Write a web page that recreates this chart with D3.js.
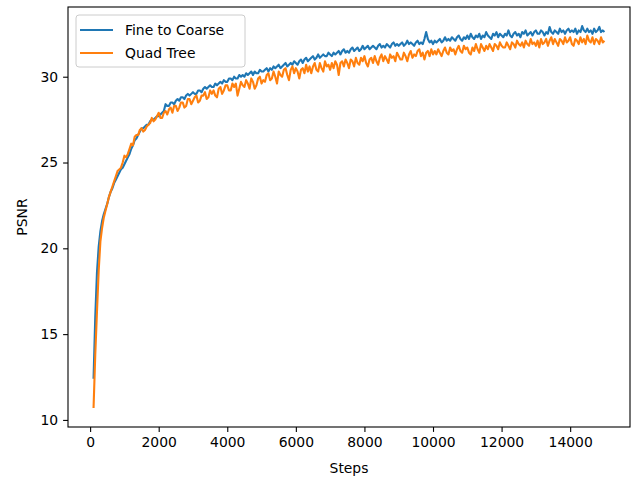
<!DOCTYPE html>
<html>
<head>
<meta charset="utf-8">
<script src="https://cdn.jsdelivr.net/npm/d3@7"></script>
<style>
  body { margin: 0; background: #fff; }
  text { font-family: "DejaVu Sans", sans-serif; }
</style>
</head>
<body>
<svg id="chart" width="639" height="477"></svg>
<script>
var steps = d3.range(100, 15001, 50)

var fineToCoarse = [
  12.4, 16.0, 18.6, 20.1, 21.0, 21.6, 22.0, 22.3, 22.6, 23.0, 23.3, 23.5, 23.8, 24.0, 24.2, 24.4, 24.6, 24.7, 24.9, 25.1,
  25.3, 25.5, 25.8, 26.0, 26.3, 26.4, 26.6, 26.8, 27.0, 27.0, 27.1, 27.2, 27.2, 27.4, 27.5, 27.5, 27.6, 27.7, 27.7, 27.8,
  27.9, 28.0, 28.4, 28.3, 28.3, 28.5, 28.5, 28.4, 28.6, 28.7, 28.6, 28.8, 28.8, 28.7, 28.9, 29.0, 28.9, 29.0, 29.1, 29.0,
  29.0, 29.2, 29.2, 29.1, 29.3, 29.4, 29.3, 29.4, 29.5, 29.4, 29.4, 29.6, 29.5, 29.6, 29.7, 29.6, 29.8, 29.7, 29.7, 29.9,
  29.9, 29.8, 30.0, 29.9, 29.9, 30.1, 30.0, 30.1, 30.0, 30.2, 30.1, 30.2, 30.3, 30.1, 30.3, 30.2, 30.2, 30.4, 30.3, 30.3,
  30.4, 30.5, 30.3, 30.5, 30.4, 30.6, 30.5, 30.6, 30.7, 30.5, 30.6, 30.7, 30.8, 30.6, 30.7, 30.8, 30.7, 30.9, 30.8, 30.7,
  30.9, 31.0, 30.8, 31.0, 31.1, 30.9, 31.0, 31.1, 31.2, 31.0, 31.1, 31.3, 31.1, 31.2, 31.3, 31.2, 31.2, 31.4, 31.3, 31.2,
  31.4, 31.3, 31.4, 31.5, 31.3, 31.5, 31.6, 31.4, 31.5, 31.4, 31.6, 31.7, 31.5, 31.6, 31.7, 31.5, 31.6, 31.8, 31.6, 31.7,
  31.8, 31.6, 31.7, 31.8, 31.7, 31.6, 31.8, 31.9, 31.7, 31.8, 31.7, 31.9, 31.8, 31.7, 31.9, 32.0, 31.8, 31.9, 31.8, 31.9,
  32.0, 31.8, 31.9, 32.1, 31.9, 32.0, 31.9, 31.8, 32.0, 32.1, 31.9, 32.0, 31.9, 32.2, 32.6, 32.2, 32.0, 32.1, 31.9, 32.1,
  32.0, 32.1, 32.2, 32.0, 32.1, 32.3, 32.1, 32.2, 32.1, 32.3, 32.2, 32.1, 32.3, 32.4, 32.2, 32.1, 32.3, 32.2, 32.4, 32.2,
  32.5, 32.3, 32.2, 32.4, 32.3, 32.5, 32.2, 32.4, 32.3, 32.6, 32.4, 32.3, 32.2, 32.5, 32.4, 32.6, 32.3, 32.5, 32.4, 32.3,
  32.5, 32.4, 32.7, 32.4, 32.3, 32.5, 32.6, 32.4, 32.5, 32.3, 32.6, 32.5, 32.7, 32.4, 32.5, 32.6, 32.4, 32.6, 32.7, 32.5,
  32.5, 32.7, 32.6, 32.4, 32.6, 32.5, 32.9, 32.6, 32.5, 32.7, 32.6, 32.5, 32.8, 32.6, 32.7, 32.5, 32.7, 32.8, 32.6, 32.7,
  32.6, 32.8, 32.5, 32.7, 32.6, 32.95, 32.7, 32.6, 32.8, 32.6, 32.7, 32.5, 32.8, 32.6, 32.7, 32.9, 32.6, 32.7, 32.6
]

var quadTree = [
  10.7, 13.8, 16.3, 18.7, 20.4, 21.2, 21.8, 22.2, 22.6, 23.0, 23.3, 23.6, 23.9, 24.2, 24.5, 24.6, 24.7, 25.0, 25.4, 25.3,
  25.5, 25.8, 26.1, 26.0, 26.5, 26.6, 26.6, 26.9, 27.0, 26.8, 26.9, 27.1, 27.2, 27.3, 27.6, 27.4, 27.5, 27.7, 27.9, 27.6,
  27.6, 27.9, 28.0, 27.8, 28.1, 28.2, 27.9, 28.3, 28.3, 28.0, 28.2, 28.5, 28.5, 28.2, 28.3, 28.7, 28.7, 28.4, 28.6, 28.8,
  28.9, 28.5, 28.6, 28.9, 28.9, 29.1, 28.7, 28.8, 29.2, 29.0, 29.2, 28.9, 28.8, 29.3, 29.4, 29.0, 29.2, 29.5, 29.5, 29.2,
  29.2, 29.6, 29.4, 29.6, 28.9, 29.3, 29.7, 29.5, 29.4, 29.8, 29.6, 29.3, 29.9, 29.7, 29.3, 29.5, 29.9, 30.0, 29.6, 29.8,
  29.7, 30.1, 30.2, 29.8, 29.9, 30.3, 30.0, 29.6, 30.3, 30.1, 30.0, 30.4, 30.5, 30.1, 29.8, 30.4, 30.6, 30.2, 30.5, 30.3,
  29.9, 30.4, 30.5, 30.2, 30.7, 30.3, 30.6, 30.2, 30.6, 30.8, 30.4, 30.3, 30.8, 30.5, 30.3, 30.9, 30.6, 30.7, 30.4, 30.8,
  30.5, 30.9, 30.7, 30.1, 30.8, 30.9, 30.6, 31.0, 30.8, 30.5, 31.0, 30.9, 30.6, 31.1, 30.8, 30.7, 31.1, 30.9, 31.2, 30.8,
  30.6, 31.0, 31.1, 30.8, 31.2, 30.9, 30.7, 31.1, 31.3, 30.9, 31.2, 31.0, 30.8, 31.3, 31.1, 31.2, 30.9, 31.4, 31.2, 31.0,
  31.0, 31.4, 31.2, 30.9, 31.3, 31.5, 31.1, 31.3, 31.2, 31.5, 31.6, 31.2, 31.4, 31.0, 31.4, 31.5, 31.2, 31.6, 31.3, 31.5,
  31.3, 31.6, 31.4, 31.2, 31.5, 31.7, 31.4, 31.3, 31.7, 31.5, 31.6, 31.3, 31.6, 31.8, 31.5, 31.4, 31.8, 31.6, 31.7, 31.4,
  31.3, 31.7, 31.5, 31.9, 31.6, 31.4, 31.9, 31.7, 31.5, 31.8, 31.6, 31.9, 31.7, 31.5, 31.9, 31.8, 31.6, 32.0, 31.8, 31.7,
  31.7, 32.0, 31.8, 31.6, 32.0, 31.9, 31.7, 32.1, 31.9, 31.8, 32.0, 31.7, 32.1, 31.9, 31.8, 32.2, 31.9, 32.0, 31.8, 32.1,
  31.7, 32.2, 31.9, 32.0, 32.2, 31.8, 32.1, 32.3, 31.9, 32.2, 32.0, 31.8, 32.2, 32.1, 31.9, 32.3, 32.0, 32.1, 32.3, 31.9,
  31.8, 32.2, 32.1, 31.9, 32.3, 32.0, 32.2, 31.9, 32.4, 32.1, 32.0, 32.3, 31.9, 32.2, 32.1, 31.9, 32.3, 32.0, 32.1
]

var seriesNames = ['Fine to Coarse', 'Quad Tree']
var seriesColors = ['#1f77b4', '#ff7f0e']
var xTicks = [0, 2000, 4000, 6000, 8000, 10000, 12000, 14000]
var yTicks = [10, 15, 20, 25, 30]

var margin = { top: 7, right: 9, bottom: 50, left: 68 }
var width = 639 - margin.left - margin.right
var height = 477 - margin.top - margin.bottom

var svg = d3.select('#chart')
var g = svg.append('g').attr('transform', 'translate(' + margin.left + ',' + margin.top + ')')

// matplotlib style 5% padding on both axes
var allY = fineToCoarse.concat(quadTree)
var xMin = d3.min(steps), xMax = d3.max(steps)
var yMin = d3.min(allY), yMax = d3.max(allY)
var xPad = (xMax - xMin) * 0.05, yPad = (yMax - yMin) * 0.05

var x = d3.scaleLinear().domain([xMin - xPad, xMax + xPad]).range([0, width])
var y = d3.scaleLinear().domain([yMin - yPad, yMax + yPad]).range([height, 0])

var line = d3.line()
  .x(function (d) { return x(d[0]) })
  .y(function (d) { return y(d[1]) })

var seriesData = [fineToCoarse, quadTree]
seriesData.forEach(function (vals, i) {
  g.append('path')
    .datum(steps.map(function (s, j) { return [s, vals[j]] }))
    .attr('fill', 'none')
    .attr('stroke', seriesColors[i])
    .attr('stroke-width', 2.1)
    .attr('stroke-linejoin', 'round')
    .attr('d', line)
})

// axes
var xAxis = g.append('g')
  .attr('transform', 'translate(0,' + height + ')')
  .call(d3.axisBottom(x).tickValues(xTicks).tickSize(4.9).tickPadding(4.9).tickFormat(d3.format('d')))
var yAxis = g.append('g')
  .call(d3.axisLeft(y).tickValues(yTicks).tickSize(4.9).tickPadding(4.9).tickFormat(d3.format('d')))

;[xAxis, yAxis].forEach(function (ax) {
  ax.select('.domain').remove()
  ax.selectAll('line').attr('stroke', '#000').attr('stroke-width', 1.1)
  ax.selectAll('text').attr('font-size', '13.9px').attr('fill', '#000')
})

// frame
g.append('rect')
  .attr('width', width).attr('height', height)
  .attr('fill', 'none').attr('stroke', '#000').attr('stroke-width', 1.1)

svg.append('text')
  .attr('x', margin.left + width / 2).attr('y', 473)
  .attr('text-anchor', 'middle').attr('font-size', '13.9px')
  .text('Steps')

svg.append('text')
  .attr('transform', 'translate(27,' + (margin.top + height / 2) + ') rotate(-90)')
  .attr('text-anchor', 'middle').attr('font-size', '13.9px')
  .text('PSNR')

// legend
var legend = svg.append('g').attr('transform', 'translate(76,15)')
legend.append('rect')
  .attr('width', 169).attr('height', 52).attr('rx', 3)
  .attr('fill', '#fff').attr('fill-opacity', 0.8)
  .attr('stroke', '#ccc').attr('stroke-width', 1)
seriesNames.forEach(function (name, i) {
  var row = legend.append('g').attr('transform', 'translate(0,' + (15 + i * 23) + ')')
  row.append('line')
    .attr('x1', 4).attr('x2', 37)
    .attr('stroke', seriesColors[i]).attr('stroke-width', 2.1)
  row.append('text')
    .attr('x', 49).attr('y', 5)
    .attr('font-size', '13.9px')
    .text(name)
})
</script>
</body>
</html>
